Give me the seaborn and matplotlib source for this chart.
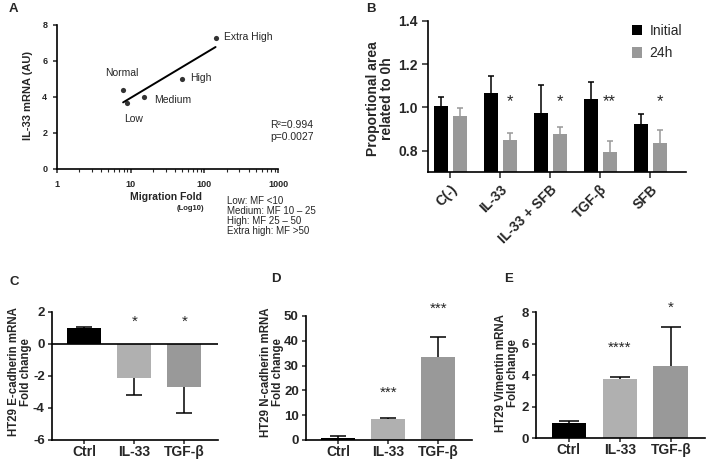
import numpy as np
import pandas as pd
import matplotlib
matplotlib.use('Agg')
import matplotlib.pyplot as plt
from matplotlib.patches import Patch
import seaborn as sns

# DATA
#=====
# A: IL-33 mRNA vs migration fold
mf_names = ['Normal', 'Low', 'Medium', 'High', 'Extra High']
mf_fold = [7.9, 8.8, 15.0, 49.0, 142.0]
mf_il33 = [4.38, 3.65, 4.02, 5.0, 7.27]
mf_legend = ['Low: MF <10', 'Medium: MF 10 \u2013 25', 'High: MF 25 \u2013 50',
             'Extra high: MF >50']

# B: wound area, initial vs 24h
b_groups = ['C(-)', 'IL-33', 'IL-33 + SFB', 'TGF-\u03b2', 'SFB']
b_times = ['Initial', '24h']
b_initial = [1.005, 1.067, 0.975, 1.037, 0.925]
b_initial_sem = [0.045, 0.078, 0.13, 0.083, 0.045]
b_24h = [0.96, 0.849, 0.875, 0.795, 0.835]
b_24h_sem = [0.037, 0.031, 0.035, 0.048, 0.06]
b_stars = ['', '*', '*', '**', '*']

# C, D, E: HT29 mRNA fold change
cde_groups = ['Ctrl', 'IL-33', 'TGF-\u03b2']
ecad = [0.97, -2.14, -2.71]
ecad_sem = [0.10, 1.05, 1.58]
ecad_stars = ['', '*', '*']
ncad = [0.9, 8.3, 33.3]
ncad_sem = [0.8, 0.4, 8.4]
ncad_stars = ['', '***', '***']
vim = [0.99, 3.75, 4.59]
vim_sem = [0.13, 0.17, 2.46]
vim_stars = ['', '****', '*']

# STYLE
#======
sns.set_style('ticks')
plt.rcParams['font.family'] = ['Liberation Sans', 'DejaVu Sans']
plt.rcParams['axes.linewidth'] = 1.2
plt.rcParams['axes.edgecolor'] = 'black'
plt.rcParams['axes.unicode_minus'] = False

W, H = 708, 462
def fx(x):
    return x / W
def fy(y):
    return 1 - y / H
def rect(l, t, r, b):
    return [fx(l), fy(b), (r - l) / W, (b - t) / H]

fig = plt.figure(figsize=(7.08, 4.62), dpi=100)

def bold_ticks(ax):
    for lbl in ax.get_xticklabels() + ax.get_yticklabels():
        lbl.set_fontweight('bold')

def one_sided_err(ax, cx, v, s, color, cap):
    # whisker only away from zero, cap only at the far end
    end = v + s if v >= 0 else v - s
    ax.plot([cx, cx], [v, end], color=color, lw=1.1, solid_capstyle='butt')
    ax.plot([cx], [end], marker='_', markersize=cap, mew=1.1, color=color)

#%% Panel A
axa = fig.add_axes(rect(57, 25, 278, 169))
sns.regplot(x=mf_fold, y=mf_il33, logx=True, ci=None, ax=axa,
            scatter_kws=dict(s=14, color='black', linewidths=0),
            line_kws=dict(color='black', lw=1.4))
axa.set_xscale('log')
axa.set_xlim(1, 1000)
axa.set_ylim(0, 8)
axa.set_xticks([1, 10, 100, 1000], labels=['1', '10', '100', '1000'])
axa.set_yticks([0, 2, 4, 6, 8])
axa.xaxis.set_minor_formatter(matplotlib.ticker.NullFormatter())
axa.tick_params(which='major', direction='out', length=3, width=1.1, labelsize=6.5, pad=5)
axa.tick_params(which='minor', direction='out', length=2, width=0.8)
axa.tick_params(axis='y', pad=4)
sns.despine(ax=axa)
bold_ticks(axa)

offsets = {'Normal': (-1, 17, 'center'), 'Low': (7, -16, 'center'),
           'Medium': (10, -3, 'left'), 'High': (9, 1, 'left'),
           'Extra High': (8, 1, 'left')}
for name, xv, yv in zip(mf_names, mf_fold, mf_il33):
    dx, dy, ha = offsets[name]
    axa.annotate(name, (xv, yv), xytext=(dx, dy), textcoords='offset pixels',
                 ha=ha, va='center', fontsize=7.5)
axa.text(0.964, 0.306, 'R\u00b2=0.994', transform=axa.transAxes, fontsize=7.5, va='center')
axa.text(0.964, 0.222, 'p=0.0027', transform=axa.transAxes, fontsize=7.5, va='center')

fig.text(fx(28), fy(95), 'IL-33 mRNA (AU)', rotation=90, ha='center', va='center',
         fontsize=8, fontweight='bold')
fig.text(fx(166), fy(196.5), 'Migration Fold', ha='center', va='center',
         fontsize=7.5, fontweight='bold')
fig.text(fx(190), fy(209), '(Log10)', ha='center', va='center',
         fontsize=5.5, fontweight='bold')
fig.text(fx(226.7), fy(196), '\n'.join(mf_legend), ha='left', va='top',
         fontsize=7, linespacing=1.0)

#%% Panel B
axb = fig.add_axes(rect(428.3, 21, 685.7, 172.3))
b_df = pd.DataFrame({'group': b_groups * 2,
                     'time': [b_times[0]] * 5 + [b_times[1]] * 5,
                     'area': b_initial + b_24h})
b_colors = ['black', '#999999']
sns.barplot(data=b_df, x='group', y='area', hue='time', palette=b_colors,
            width=0.76, gap=0.26, errorbar=None, legend=False, linewidth=0, ax=axb)
for cont, sems, col in zip(axb.containers, [b_initial_sem, b_24h_sem], b_colors):
    for bar, s in zip(cont, sems):
        one_sided_err(axb, bar.get_x() + bar.get_width() / 2, bar.get_height(), s, col, 5)
for bar, st in zip(axb.containers[1], b_stars):
    if st:
        axb.text(bar.get_x() + bar.get_width() / 2, 1.028, st, ha='center', va='center',
                 fontsize=12)
axb.set_ylim(0.7, 1.4)
axb.set_xlim(-0.44, 4.71)
axb.set_yticks([0.8, 1.0, 1.2, 1.4])
axb.set_xticks(range(len(b_groups)))
axb.set_xticklabels(b_groups, rotation=45, ha='right', rotation_mode='anchor')
axb.set_xlabel('')
axb.set_ylabel('')
axb.tick_params(direction='out', length=4, width=1.1, labelsize=10)
sns.despine(ax=axb)
bold_ticks(axb)
fig.text(fx(380), fy(99), 'Proportional area\nrelated to 0h', rotation=90, ha='center',
         va='center', fontsize=10, fontweight='bold', linespacing=0.95)
handles = [Patch(facecolor=c, edgecolor='none') for c in b_colors]
fig.legend(handles, b_times, loc='upper left', bbox_to_anchor=(fx(625), fy(17)),
           frameon=False, fontsize=10, handlelength=0.75, handleheight=0.75,
           handletextpad=0.5, labelspacing=0.6, borderpad=0)

#%% Panels C, D, E
cde_colors = ['black', '#b0b0b0', '#999999']

def fold_panel(box, values, sems, stars, star_y, ylim, yticks, ylabel, lab_xy, cap):
    ax = fig.add_axes(rect(*box))
    sns.barplot(x=cde_groups, y=values, hue=cde_groups, palette=cde_colors, legend=False,
                width=0.68, errorbar=None, linewidth=0, ax=ax)
    for bar, v, s in zip(ax.patches, values, sems):
        one_sided_err(ax, bar.get_x() + bar.get_width() / 2, v, s, 'black', cap)
    for i, (st, sy) in enumerate(zip(stars, star_y)):
        if st:
            ax.text(i, sy, st, ha='center', va='center', fontsize=11, clip_on=False)
    ax.set_ylim(*ylim)
    ax.set_yticks(yticks)
    ax.set_xlim(-0.65, 2.67)
    ax.tick_params(direction='out', length=3, width=1.1, labelsize=9.5, pad=2)
    ax.tick_params(axis='x', pad=0.5, labelsize=10)
    sns.despine(ax=ax)
    bold_ticks(ax)
    fig.text(fx(lab_xy[0]), fy(lab_xy[1]), ylabel, rotation=90, ha='center', va='center',
             fontsize=8.3, fontweight='bold', linespacing=1.05)
    return ax

axc = fold_panel((51.7, 311.7, 218, 440), ecad, ecad_sem, ecad_stars, [0, 1.35, 1.35],
                 (-6, 2), [-6, -4, -2, 0, 2], 'HT29 E-cadherin mRNA\nFold change',
                 (20, 372), 12)
axc.axhline(0, color='black', lw=1.2)
fold_panel((305.7, 316, 471.7, 440), ncad, ncad_sem, ncad_stars, [0, 19, 53],
           (0, 50), [0, 10, 20, 30, 40, 50], 'HT29 N-cadherin mRNA\nFold change',
           (272, 372), 12)
fold_panel((535.7, 312.3, 705, 438.3), vim, vim_sem, vim_stars, [0, 5.75, 8.3],
           (0, 8), [0, 2, 4, 6, 8], 'HT29 Vimentin mRNA\nFold change',
           (507, 373), 14)

# panel letters
for letter, (lx, ly) in zip('ABCDE', [(13.5, 9.5), (371, 9), (14, 282), (276, 279.5),
                                      (509, 279.5)]):
    fig.text(fx(lx), fy(ly), letter, ha='center', va='center', fontsize=9.5,
             fontweight='bold')

fig.savefig('out.png', dpi=100)
